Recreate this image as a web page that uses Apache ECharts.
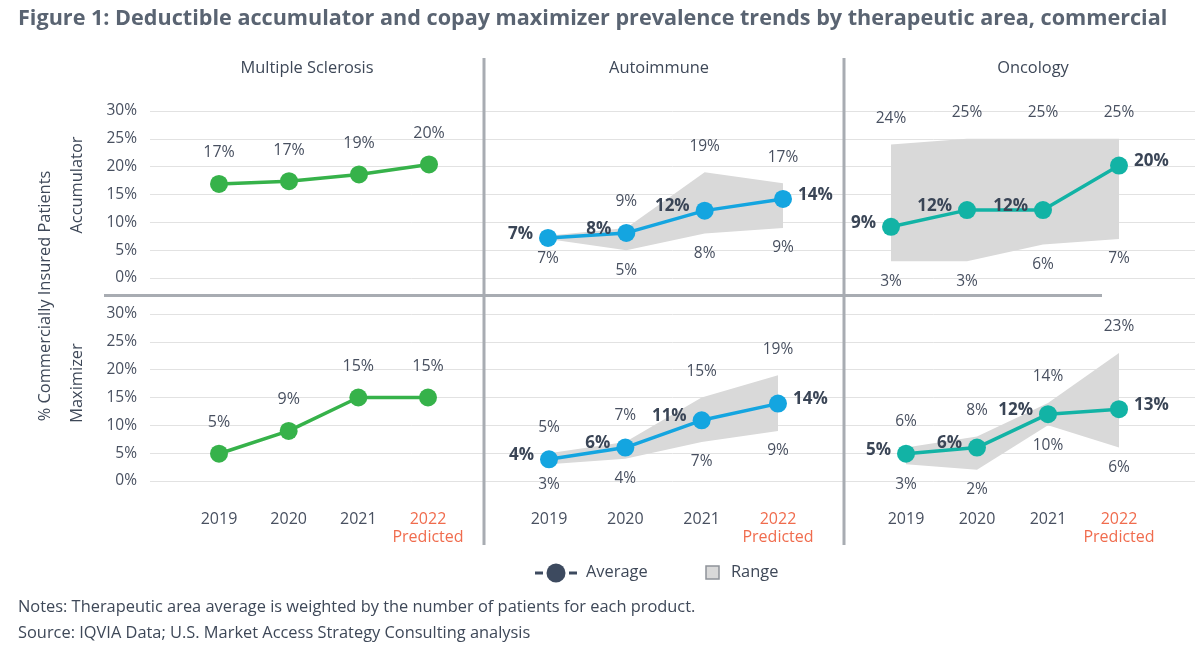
<!DOCTYPE html>
<html>
<head>
<meta charset="utf-8">
<script src="https://cdn.jsdelivr.net/npm/echarts@6/dist/echarts.min.js"></script>
<style>
  html, body { margin: 0; padding: 0; background: #fff; }
  #chart { width: 1200px; height: 646px; }
</style>
</head>
<body>
<div id="chart"></div>
<script>
// categories
const years = ['2019', '2020', '2021', '2022'];

// Accumulator (top row)
const msAccAvg = [16.9, 17.4, 18.6, 20.4];
const aiAccAvg = [7.2, 8.1, 12.1, 14.2];
const aiAccMin = [7, 5, 8, 9];
const aiAccMax = [7.6, 9, 19, 17];
const onAccAvg = [9.2, 12.2, 12.2, 20.2];
const onAccMin = [3, 3, 6, 7];
const onAccMax = [24, 25, 25, 25];

// Maximizer (bottom row)
const msMaxAvg = [4.9, 9, 15, 15];
const aiMaxAvg = [3.9, 6, 10.9, 13.9];
const aiMaxMin = [3, 4, 7, 9];
const aiMaxMax = [5, 7, 15, 19];
const onMaxAvg = [4.9, 6, 12, 12.9];
const onMaxMin = [3, 2, 10, 6];
const onMaxMax = [6, 8, 14, 23];

const FONT = '"Open Sans", sans-serif';
const TXT = '#3e4858';
const LBL = '#485060';
const GREEN = '#36b24a';
const BLUE = '#14a5e0';
const TEAL = '#12b3a5';
const BAND = '#d9d9d9';
const SEP = '#a8acb2';

// row geometry
const rows = [{ top: 111, height: 167 }, { top: 314, height: 167 }];
// panel x spans (first and last category centres)
const panels = [
  { row: 0, l: 219, r: 429 }, { row: 0, l: 548, r: 783 }, { row: 0, l: 891, r: 1119 },
  { row: 1, l: 219, r: 428 }, { row: 1, l: 549, r: 778 }, { row: 1, l: 906, r: 1119 }
];

const grid = [], xAxis = [], yAxis = [], series = [];

// background grids carrying the y-axis labels and gridlines
rows.forEach(function (r) {
  grid.push({ left: 150, right: 5, top: r.top, height: r.height });
  xAxis.push({ type: 'value', gridIndex: grid.length - 1, show: false });
  yAxis.push({
    type: 'value', gridIndex: grid.length - 1, min: 0, max: 30, interval: 5,
    axisLine: { show: false }, axisTick: { show: false },
    axisLabel: { formatter: '{value}%', fontFamily: FONT, fontSize: 15.5, color: LBL, margin: 13 },
    splitLine: { lineStyle: { color: '#e2e2e2', width: 1 } }
  });
});

panels.forEach(function (p) {
  const r = rows[p.row];
  grid.push({ left: p.l, width: p.r - p.l, top: r.top, height: r.height });
  const gi = grid.length - 1;
  xAxis.push({
    type: 'category', gridIndex: gi, data: years, boundaryGap: false,
    axisLine: { show: false }, axisTick: { show: false }, splitLine: { show: false },
    axisLabel: {
      show: p.row === 1, interval: 0, margin: 29,
      fontFamily: FONT, fontSize: 16, color: LBL, lineHeight: 18,
      formatter: function (v) { return v === '2022' ? '{p|2022}\n{p|Predicted}' : v; },
      rich: { p: { color: '#f06c4e', fontFamily: FONT, fontSize: 16, lineHeight: 18 } }
    }
  });
  yAxis.push({ type: 'value', gridIndex: gi, min: 0, max: 30, interval: 5, show: false, splitLine: { show: false } });
});

function rangeSeries(gi, min, max) {
  const base = { xAxisIndex: gi, yAxisIndex: gi, silent: true };
  const lab = { show: true, fontFamily: FONT, fontSize: 15.5, color: LBL, opacity: 1 };
  return [
    Object.assign({ type: 'line', stack: 'r' + gi, data: min, symbol: 'none', lineStyle: { opacity: 0 } }, base),
    Object.assign({
      type: 'line', stack: 'r' + gi, data: max.map(function (v, i) { return v - min[i]; }),
      symbol: 'none', lineStyle: { opacity: 0 }, areaStyle: { color: BAND, opacity: 1 }
    }, base),
    Object.assign({
      type: 'scatter', data: max, symbolSize: 0, z: 4, itemStyle: { opacity: 1 },
      label: Object.assign({}, lab, {
        position: 'top', distance: 18,
        formatter: function (q) { return max[q.dataIndex] - min[q.dataIndex] < 1 ? '' : Math.round(q.value) + '%'; }
      })
    }, base),
    Object.assign({
      type: 'scatter', data: min, symbolSize: 0, z: 4, itemStyle: { opacity: 1 },
      label: Object.assign({}, lab, { position: 'bottom', distance: 12, formatter: function (q) { return Math.round(q.value) + '%'; } })
    }, base)
  ];
}

function avgSeries(gi, avg, color, bold) {
  return {
    type: 'line', xAxisIndex: gi, yAxisIndex: gi, silent: true, z: 5,
    data: avg.map(function (v, i) {
      return bold ? { value: v, label: { position: i === 3 ? 'right' : 'left' } } : v;
    }),
    symbol: 'circle', symbolSize: 18,
    lineStyle: { color: color, width: 3.5 }, itemStyle: { color: color },
    label: bold ? {
      show: true, fontFamily: FONT, fontSize: 17, fontWeight: 'bold', color: '#3a4556',
      distance: 6, offset: [0, -4], formatter: function (q) { return Math.round(q.value) + '%'; }
    } : {
      show: true, position: 'top', distance: 14, fontFamily: FONT, fontSize: 16, color: LBL,
      formatter: function (q) { return Math.round(q.value) + '%'; }
    }
  };
}

// panels: grid indices 2..7
series.push(avgSeries(2, msAccAvg, GREEN, false));
series.push.apply(series, rangeSeries(3, aiAccMin, aiAccMax));
series.push(avgSeries(3, aiAccAvg, BLUE, true));
series.push.apply(series, rangeSeries(4, onAccMin, onAccMax));
series.push(avgSeries(4, onAccAvg, TEAL, true));
series.push(avgSeries(5, msMaxAvg, GREEN, false));
series.push.apply(series, rangeSeries(6, aiMaxMin, aiMaxMax));
series.push(avgSeries(6, aiMaxAvg, BLUE, true));
series.push.apply(series, rangeSeries(7, onMaxMin, onMaxMax));
series.push(avgSeries(7, onMaxAvg, TEAL, true));

function txt(x, y, s, opt) {
  return {
    type: 'text', x: x, y: y, z: 10, rotation: (opt && opt.rot) || 0,
    style: Object.assign({ text: s, fill: TXT, font: '16.4px ' + FONT, align: 'center', verticalAlign: 'middle' }, opt && opt.style)
  };
}
function line(x1, y1, x2, y2, c, w) {
  return { type: 'line', z: 9, shape: { x1: x1, y1: y1, x2: x2, y2: y2 }, style: { stroke: c, lineWidth: w } };
}

const graphic = [
  txt(18, 19, 'Figure 1: Deductible accumulator and copay maximizer prevalence trends by therapeutic area, commercial',
    { style: { align: 'left', fill: '#5a6472', font: 'bold 21.6px ' + FONT } }),
  txt(307, 68, 'Multiple Sclerosis'),
  txt(659, 68, 'Autoimmune'),
  txt(1033, 68, 'Oncology'),
  txt(45, 296, '% Commercially Insured Patients', { rot: Math.PI / 2 }),
  txt(77, 185, 'Accumulator', { rot: Math.PI / 2 }),
  txt(77, 383, 'Maximizer', { rot: Math.PI / 2 }),
  line(104, 295.5, 1102, 295.5, SEP, 3),
  line(484, 58, 484, 545, SEP, 3),
  line(844, 58, 844, 545, SEP, 3),
  // legend
  line(535, 573, 543, 573, '#3d4a5f', 3),
  { type: 'circle', z: 10, shape: { cx: 556, cy: 573, r: 9.5 }, style: { fill: '#3d4a5f' } },
  line(569, 573, 577, 573, '#3d4a5f', 3),
  txt(586, 572, 'Average', { style: { align: 'left' } }),
  { type: 'rect', z: 10, shape: { x: 706, y: 566, width: 13, height: 13 }, style: { fill: BAND, stroke: '#8f9399', lineWidth: 1.5 } },
  txt(731, 572, 'Range', { style: { align: 'left' } }),
  txt(18, 607, 'Notes: Therapeutic area average is weighted by the number of patients for each product.', { style: { align: 'left' } }),
  txt(18, 633, 'Source: IQVIA Data; U.S. Market Access Strategy Consulting analysis', { style: { align: 'left' } })
];

const chart = echarts.init(document.getElementById('chart'), null, { renderer: 'canvas' });
chart.setOption({
  animation: false,
  backgroundColor: '#ffffff',
  textStyle: { fontFamily: FONT },
  grid: grid,
  xAxis: xAxis,
  yAxis: yAxis,
  series: series,
  graphic: graphic
});
</script>
</body>
</html>
